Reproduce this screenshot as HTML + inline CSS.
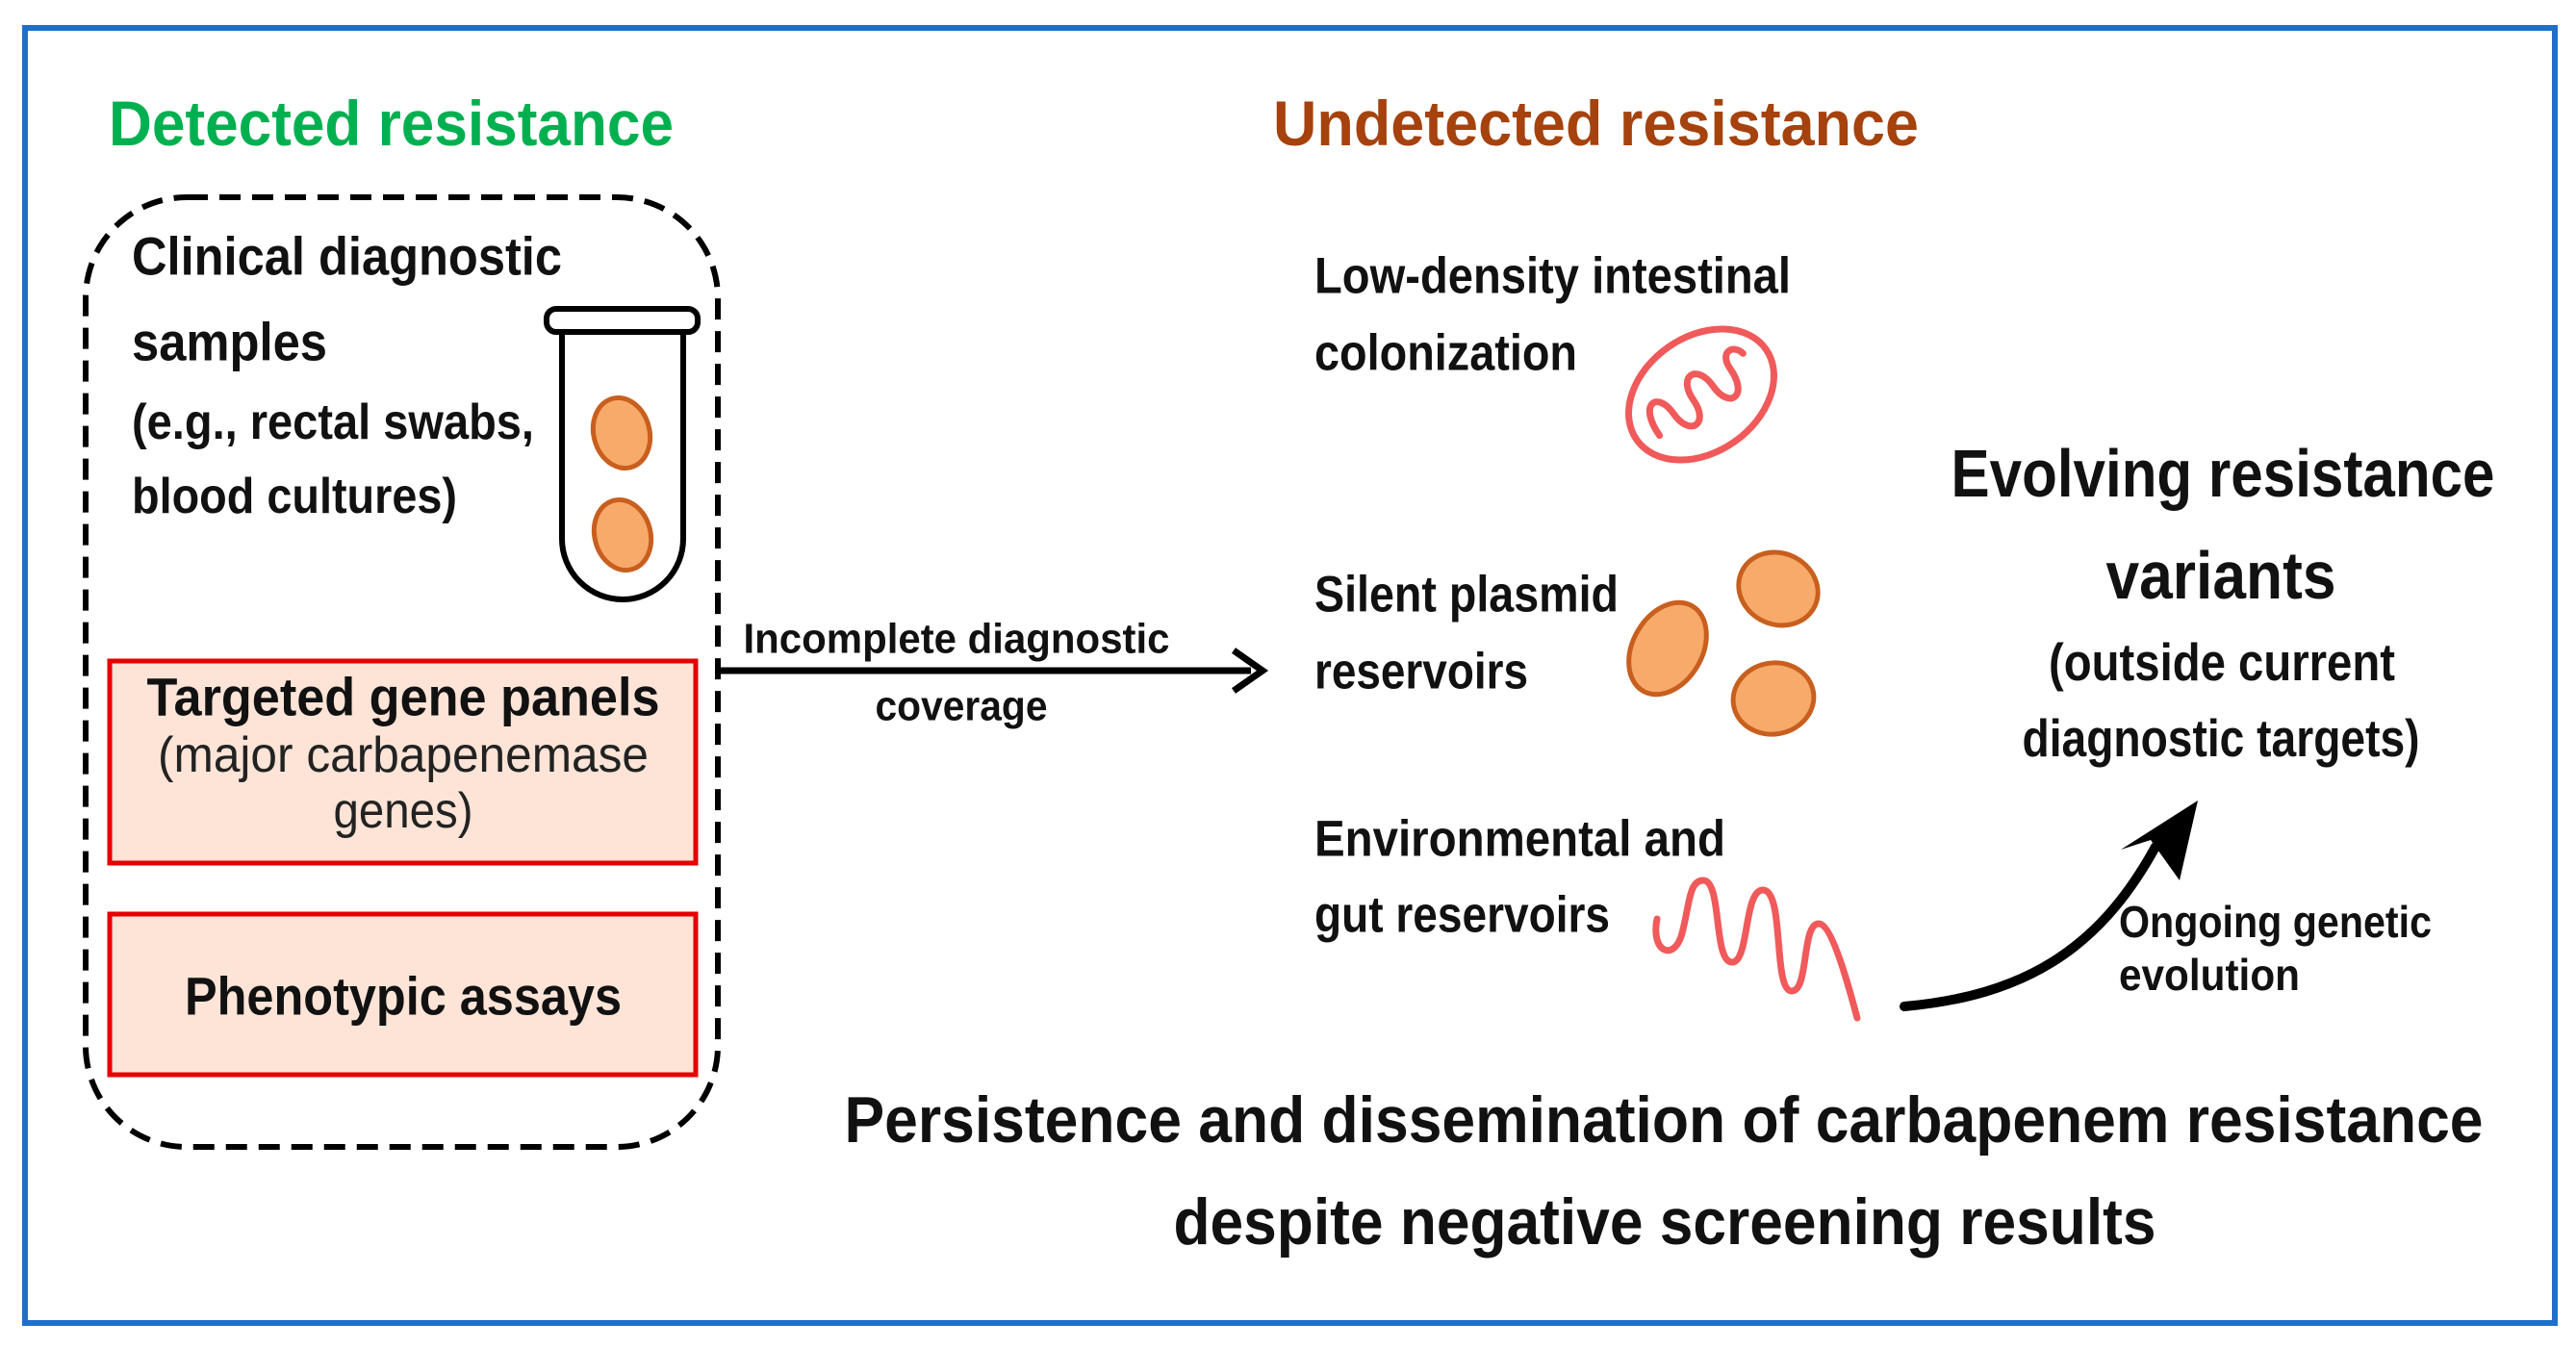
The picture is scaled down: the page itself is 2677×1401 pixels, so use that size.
<!DOCTYPE html>
<html><head><meta charset="utf-8"><style>
html,body{margin:0;padding:0;background:#fff;}
svg{display:block;}
text{font-family:"Liberation Sans",sans-serif;dominant-baseline:central;}
</style></head><body>
<svg width="2677" height="1401" viewBox="0 0 2677 1401" xmlns="http://www.w3.org/2000/svg">
<rect x="0" y="0" width="2677" height="1401" fill="#fff"/>
<rect x="26" y="29" width="2629" height="1346" fill="none" stroke="#1f6fc8" stroke-width="6"/>

<text x="113" y="128" font-size="66" font-weight="bold" fill="#00b050" textLength="587" lengthAdjust="spacingAndGlyphs">Detected resistance</text>
<text x="1323" y="128" font-size="66" font-weight="bold" fill="#a5420e" textLength="671" lengthAdjust="spacingAndGlyphs">Undetected resistance</text>

<rect x="89" y="205" width="657" height="987" rx="105" ry="105" fill="none" stroke="#000" stroke-width="6" stroke-dasharray="22,12"/>

<g font-weight="bold" fill="#111">
<text x="137" y="266" font-size="56" textLength="447" lengthAdjust="spacingAndGlyphs">Clinical diagnostic</text>
<text x="137" y="355" font-size="56" textLength="203" lengthAdjust="spacingAndGlyphs">samples</text>
<text x="137" y="439" font-size="52" textLength="418" lengthAdjust="spacingAndGlyphs">(e.g., rectal swabs,</text>
<text x="137" y="516" font-size="52" textLength="338" lengthAdjust="spacingAndGlyphs">blood cultures)</text>
</g>

<!-- test tube -->
<rect x="568" y="321" width="157" height="24" rx="10" fill="#fff" stroke="#000" stroke-width="6"/>
<path d="M584 345 V560 A63 63 0 0 0 710 560 V345" fill="none" stroke="#000" stroke-width="6"/>
<ellipse cx="646" cy="450" rx="29" ry="37" transform="rotate(-15 646 450)" fill="#f7aa6a" stroke="#c85f1e" stroke-width="5"/>
<ellipse cx="647" cy="556" rx="29" ry="37" transform="rotate(-15 647 556)" fill="#f7aa6a" stroke="#c85f1e" stroke-width="5"/>

<rect x="114" y="687" width="609" height="210" fill="#fde4d6" stroke="#e50000" stroke-width="5"/>
<text x="419" y="724" font-size="56" font-weight="bold" text-anchor="middle" fill="#111" textLength="533" lengthAdjust="spacingAndGlyphs">Targeted gene panels</text>
<text x="419" y="785" font-size="52" text-anchor="middle" fill="#222" textLength="510" lengthAdjust="spacingAndGlyphs">(major carbapenemase</text>
<text x="419" y="843" font-size="52" text-anchor="middle" fill="#222" textLength="145" lengthAdjust="spacingAndGlyphs">genes)</text>

<rect x="114" y="950" width="609" height="167" fill="#fde4d6" stroke="#e50000" stroke-width="5"/>
<text x="419" y="1035" font-size="56" font-weight="bold" text-anchor="middle" fill="#111" textLength="454" lengthAdjust="spacingAndGlyphs">Phenotypic assays</text>

<!-- arrow -->
<line x1="746" y1="697" x2="1300" y2="697" stroke="#000" stroke-width="7"/>
<path d="M1282 676 L1312 697 L1282 718" fill="none" stroke="#000" stroke-width="7" stroke-linejoin="miter"/>
<text x="994" y="664" font-size="44" font-weight="bold" text-anchor="middle" fill="#111" textLength="443" lengthAdjust="spacingAndGlyphs">Incomplete diagnostic</text>
<text x="999" y="734" font-size="44" font-weight="bold" text-anchor="middle" fill="#111" textLength="179" lengthAdjust="spacingAndGlyphs">coverage</text>

<g font-weight="bold" fill="#111" font-size="53">
<text x="1366" y="287" textLength="495" lengthAdjust="spacingAndGlyphs">Low-density intestinal</text>
<text x="1366" y="367" textLength="273" lengthAdjust="spacingAndGlyphs">colonization</text>
<text x="1366" y="618" textLength="316" lengthAdjust="spacingAndGlyphs">Silent plasmid</text>
<text x="1366" y="698" textLength="222" lengthAdjust="spacingAndGlyphs">reservoirs</text>
<text x="1366" y="872" textLength="427" lengthAdjust="spacingAndGlyphs">Environmental and</text>
<text x="1366" y="951" textLength="307" lengthAdjust="spacingAndGlyphs">gut reservoirs</text>
</g>

<!-- mitochondria -->
<g transform="rotate(-35 1768 410)">
<ellipse cx="1768" cy="410" rx="82" ry="60" fill="none" stroke="#f05a5a" stroke-width="7"/>
<path d="M1708 420 C1708 380 1733 380 1733 410 C1733 440 1758 440 1758 410 C1758 380 1783 380 1783 410 C1783 440 1808 440 1808 405 C1808 385 1825 385 1828 400" fill="none" stroke="#f05a5a" stroke-width="7" stroke-linecap="round"/>
</g>

<!-- plasmid ovals -->
<ellipse cx="1733" cy="674" rx="36" ry="51" transform="rotate(30 1733 674)" fill="#f7aa6a" stroke="#c85f1e" stroke-width="5"/>
<ellipse cx="1848" cy="612" rx="42" ry="37" transform="rotate(25 1848 612)" fill="#f7aa6a" stroke="#c85f1e" stroke-width="5"/>
<ellipse cx="1843" cy="726" rx="42" ry="37" transform="rotate(-10 1843 726)" fill="#f7aa6a" stroke="#c85f1e" stroke-width="5"/>

<!-- wave -->
<path d="M1722 955 C1715 990 1740 1000 1748 970 C1756 940 1755 915 1770 915 C1790 915 1780 1000 1800 1000 C1818 1000 1812 925 1832 925 C1855 925 1842 1030 1862 1030 C1880 1030 1872 960 1890 960 C1905 960 1925 1040 1930 1058" fill="none" stroke="#f05a5a" stroke-width="7" stroke-linecap="round"/>

<text x="2310" y="492" font-size="70" font-weight="bold" text-anchor="middle" fill="#111" textLength="565" lengthAdjust="spacingAndGlyphs">Evolving resistance</text>
<text x="2308" y="598" font-size="70" font-weight="bold" text-anchor="middle" fill="#111" textLength="239" lengthAdjust="spacingAndGlyphs">variants</text>
<text x="2309" y="688" font-size="55" font-weight="bold" text-anchor="middle" fill="#111" textLength="360" lengthAdjust="spacingAndGlyphs">(outside current</text>
<text x="2308" y="767" font-size="55" font-weight="bold" text-anchor="middle" fill="#111" textLength="413" lengthAdjust="spacingAndGlyphs">diagnostic targets)</text>

<!-- curved arrow -->
<path d="M1979 1046 C2100 1035 2180 990 2240 880" fill="none" stroke="#000" stroke-width="10" stroke-linecap="round"/>
<path d="M2284 832 L2265 915 L2235 873 L2204 883 Z" fill="#000"/>
<text x="2202" y="958" font-size="46" font-weight="bold" fill="#111" textLength="325" lengthAdjust="spacingAndGlyphs">Ongoing genetic</text>
<text x="2202" y="1013" font-size="46" font-weight="bold" fill="#111" textLength="188" lengthAdjust="spacingAndGlyphs">evolution</text>

<text x="1729" y="1164" font-size="68" font-weight="bold" text-anchor="middle" fill="#111" textLength="1703" lengthAdjust="spacingAndGlyphs">Persistence and dissemination of carbapenem resistance</text>
<text x="1730" y="1270" font-size="68" font-weight="bold" text-anchor="middle" fill="#111" textLength="1021" lengthAdjust="spacingAndGlyphs">despite negative screening results</text>
</svg>
</body></html>
